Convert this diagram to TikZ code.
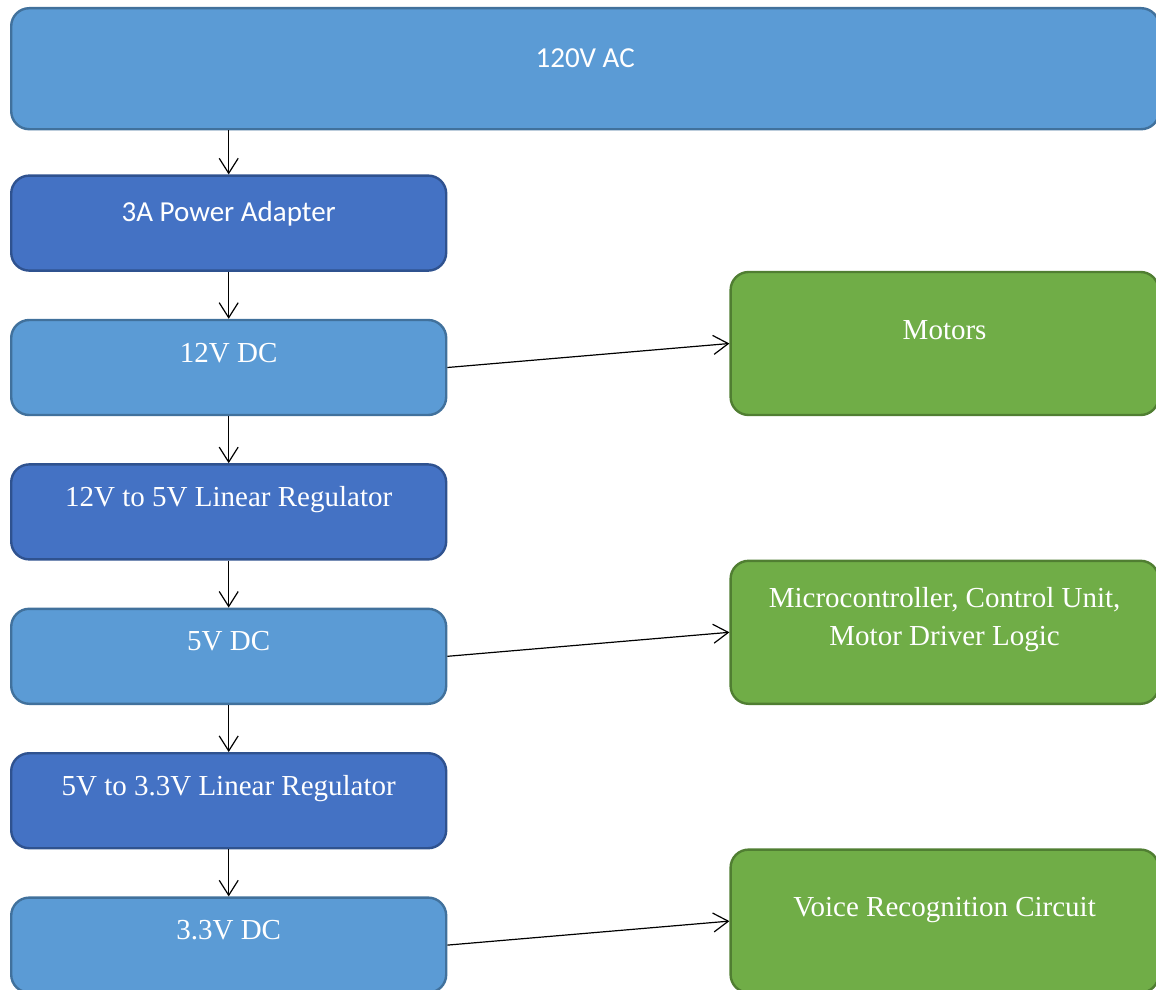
\documentclass[tikz,border=0pt]{standalone}
\usepackage{fontspec}
\setmainfont{Liberation Serif}
\newfontfamily\calibri{Carlito}
\usetikzlibrary{arrows.meta,positioning}
\definecolor{lightfill}{HTML}{5B9BD5}
\definecolor{lightline}{HTML}{41719C}
\definecolor{darkfill}{HTML}{4472C4}
\definecolor{darkline}{HTML}{2F528F}
\definecolor{greenfill}{HTML}{70AD47}
\definecolor{greenline}{HTML}{507E32}

\begin{document}
\begin{tikzpicture}[>={Straight Barb[length=15pt,width=19pt]},node distance=47pt and 282pt,
  box/.style={draw,rounded corners=18pt,line width=2.4pt,text=white,inner sep=0pt,align=center,font=\fontsize{29}{38}\selectfont},
  supply/.style={box,fill=lightfill,draw=lightline},
  stage/.style={box,fill=darkfill,draw=darkline},
  load/.style={box,fill=greenfill,draw=greenline,minimum width=428pt},
  narrow/.style={minimum width=435pt,text height=42pt,text depth=53pt},
  wire/.style={->,line width=1.2pt}]
  \useasboundingbox (0,0) rectangle (1156pt,-990pt);
  % mains and adapter
  \node (ac) [supply,anchor=north west,minimum width=1148pt,text height=59pt,text depth=62pt,font=\calibri\fontsize{29}{38}\selectfont] at (10pt,-7pt) {120V AC};
  \node (adapter) [stage,narrow,text height=46pt,text depth=49pt,font=\calibri\fontsize{29}{38}\selectfont,below right=44pt and 0pt of ac.south west] {3A Power Adapter};
  % supply chain
  \node (dc12) [supply,narrow,below=of adapter] {12V DC};
  \node (reg5) [stage,narrow,below=of dc12] {12V to 5V Linear Regulator};
  \node (dc5) [supply,narrow,below=of reg5] {5V DC};
  \node (reg33) [stage,narrow,below=of dc5] {5V to 3.3V Linear Regulator};
  \node (dc33) [supply,narrow,below=of reg33] {3.3V DC};
  % loads
  \node (motors) [load,text height=67pt,text depth=76pt,above right=0pt and 282pt of dc12.south east] {Motors};
  \node (mcu) [load,text height=85pt,text depth=58pt,above right=0pt and 282pt of dc5.south east] {Microcontroller, Control Unit,\\Motor Driver Logic};
  \node (voice) [load,text height=67pt,text depth=76pt,above right=0pt and 282pt of dc33.south east] {Voice Recognition Circuit};
  \draw[wire] (ac.south -| adapter.north) -- (adapter.north);
  \foreach \a/\b in {adapter/dc12,dc12/reg5,reg5/dc5,dc5/reg33,reg33/dc33}
    \draw[wire] (\a) -- (\b);
  \draw[wire] (dc12.east) -- (motors.west);
  \draw[wire] (dc5.east) -- (mcu.west);
  \draw[wire] (dc33.east) -- (voice.west);
\end{tikzpicture}
\end{document}
